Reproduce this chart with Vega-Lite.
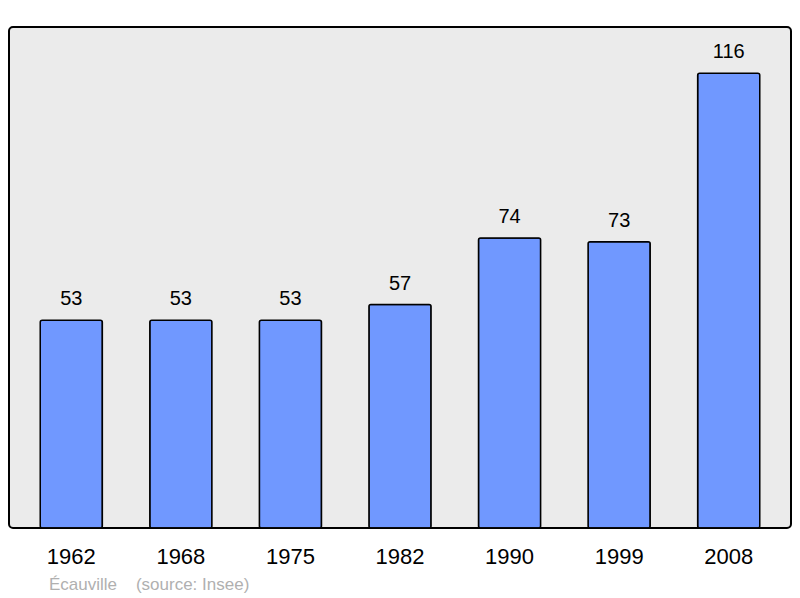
{
  "$schema": "https://vega.github.io/schema/vega-lite/v6.json",
  "width": 782,
  "height": 501,
  "autosize": {"type": "none"},
  "padding": {"left": 9, "top": 27, "right": 9, "bottom": 70},
  "background": "white",
  "config": {
    "font": "Liberation Sans",
    "view": {"stroke": "#000000", "strokeWidth": 2, "cornerRadius": 4, "fill": "#ebebeb"}
  },
  "title": {
    "text": "Écauville\u00a0\u00a0\u00a0\u00a0(source: Insee)",
    "orient": "bottom",
    "anchor": "start",
    "fontSize": 17,
    "fontWeight": "normal",
    "color": "#b0b0b0",
    "dx": 40,
    "offset": 10
  },
  "data": {
    "values": [
      {"year": "1962", "pop": 53},
      {"year": "1968", "pop": 53},
      {"year": "1975", "pop": 53},
      {"year": "1982", "pop": 57},
      {"year": "1990", "pop": 74},
      {"year": "1999", "pop": 73},
      {"year": "2008", "pop": 116}
    ]
  },
  "encoding": {
    "x": {
      "field": "year",
      "type": "ordinal",
      "sort": null,
      "scale": {"paddingInner": 0.433, "paddingOuter": 0.285},
      "axis": {"title": null, "domain": false, "ticks": false, "labelAngle": 0, "labelFontSize": 22, "labelColor": "#000000", "labelPadding": 18}
    },
    "y": {
      "field": "pop",
      "type": "quantitative",
      "scale": {"domain": [0, 127.8], "nice": false, "zero": true},
      "axis": null
    }
  },
  "layer": [
    {
      "mark": {"type": "bar", "fill": "#7098ff", "stroke": "#000000", "strokeWidth": 1.5, "cornerRadius": 2}
    },
    {
      "mark": {"type": "text", "baseline": "bottom", "dy": -11, "fontSize": 20, "color": "#000000"},
      "encoding": {"text": {"field": "pop", "type": "quantitative"}}
    }
  ]
}
